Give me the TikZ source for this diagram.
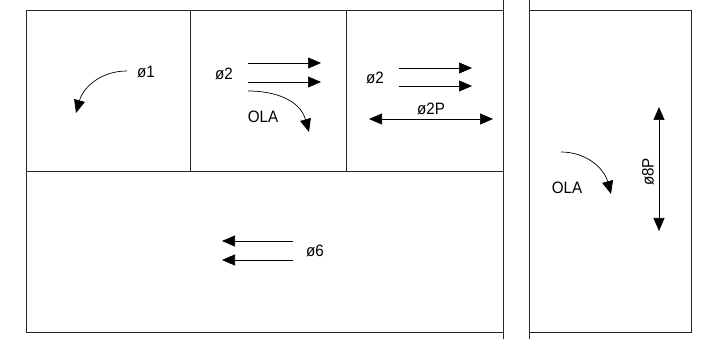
\documentclass[tikz,border=0pt]{standalone}
\usepackage{fontspec}
\setmainfont[FakeStretch=0.92]{Liberation Sans}
\usetikzlibrary{arrows.meta}
\tikzset{
  wall/.style={line width=1pt, draw=black!85},
  flow/.style={line width=0.7pt, -{Triangle[length=13pt,width=11pt]}},
  flowboth/.style={line width=0.7pt, {Triangle[length=13pt,width=11pt]}-{Triangle[length=13pt,width=11pt]}},
  lbl/.style={inner sep=0pt, font=\fontsize{16.5}{16.5}\selectfont}
}
\begin{document}
\begin{tikzpicture}[x=1pt,y=-1pt]
\useasboundingbox (0,0) rectangle (710,339);
% walls
\draw[wall] (26,10.5) -- (503,10.5);
\draw[wall] (26,10.5) -- (26,332.5) -- (503,332.5);
\draw[wall] (503,0) -- (503,339);
\draw[wall] (529,0) -- (529,339);
\draw[wall] (529,10.5) -- (691.5,10.5) -- (691.5,332.5) -- (529,332.5);
\draw[wall] (26,171.5) -- (503,171.5);
\draw[wall] (190,10.5) -- (190,171.5);
\draw[wall] (346.5,10.5) -- (346.5,171.5);
% cell 1
\node[lbl] (p1) at (146,72) {ø1};
\coordinate (a1s) at (127,71);
\coordinate (a1e) at (76,113);
\draw[flow] (a1s) .. controls (100,71) and (83,88) .. (a1e);
% cell 2
\node[lbl] (p2a) at (224,74) {ø2};
\coordinate (b1s) at (248,63); \coordinate (b1e) at (321,63);
\coordinate (b2s) at (248,82); \coordinate (b2e) at (321,82);
\draw[flow] (b1s) -- (b1e);
\draw[flow] (b2s) -- (b2e);
\coordinate (b3s) at (248,91); \coordinate (b3e) at (309,132);
\draw[flow] (b3s) .. controls (275,91) and (300,100) .. (b3e);
\node[lbl] (ola1) at (263,117) {OLA};
% cell 3
\node[lbl] (p2b) at (375,77.5) {ø2};
\coordinate (c1s) at (399,68); \coordinate (c1e) at (472,68);
\coordinate (c2s) at (399,86); \coordinate (c2e) at (472,86);
\draw[flow] (c1s) -- (c1e);
\draw[flow] (c2s) -- (c2e);
\coordinate (c3s) at (369,119); \coordinate (c3e) at (493,119);
\draw[flowboth] (c3s) -- (c3e);
\node[lbl] (p2p) at (431,109) {ø2P};
% bottom
\coordinate (d1s) at (293,241); \coordinate (d1e) at (222,241);
\coordinate (d2s) at (293,260); \coordinate (d2e) at (222,260);
\draw[flow] (d1s) -- (d1e);
\draw[flow] (d2s) -- (d2e);
\node[lbl] (p6) at (315,251) {ø6};
% right room
\coordinate (e1s) at (659,107); \coordinate (e1e) at (659,231);
\draw[flowboth] (e1s) -- (e1e);
\node[lbl, rotate=90] (p8p) at (648,172) {ø8P};
\coordinate (e2s) at (561,152); \coordinate (e2e) at (611,194);
\draw[flow] (e2s) .. controls (586,152) and (604,168) .. (e2e);
\node[lbl] (ola2) at (567,188) {OLA};
\end{tikzpicture}
\end{document}
